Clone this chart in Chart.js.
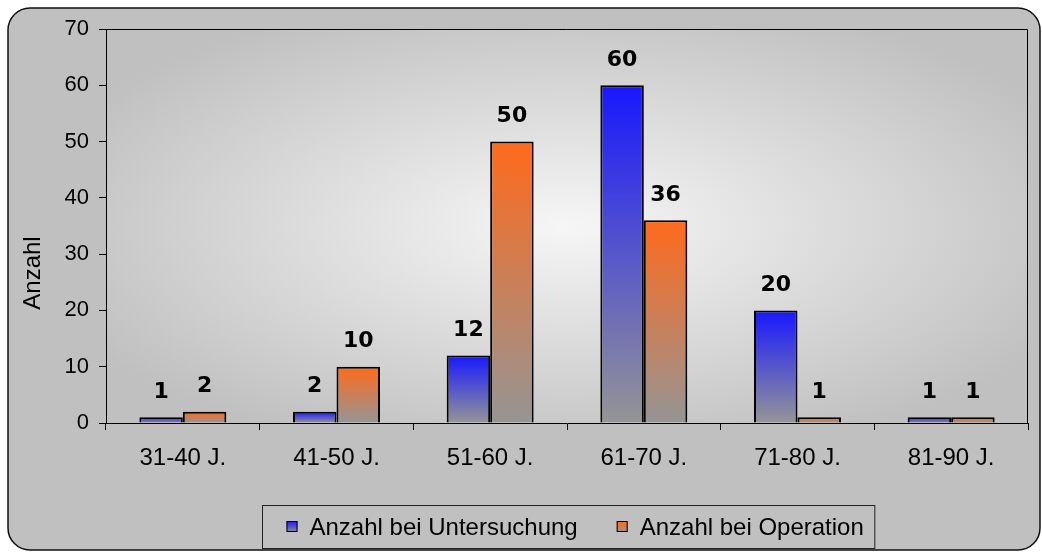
<!DOCTYPE html>
<html lang="de">
<head>
<meta charset="UTF-8" />
<title>Anzahl nach Altersgruppe</title>
<script src="https://cdn.jsdelivr.net/npm/chart.js"></script>
<style>
  html, body { margin: 0; padding: 0; background: #fff; }
  #wrap { width: 1042px; height: 553px; }
</style>
</head>
<body>
<div id="wrap"><canvas id="ageChart" width="1042" height="553"></canvas></div>
<script>
// Altersgruppen und Fallzahlen
const ageGroups = ['31-40 J.', '41-50 J.', '51-60 J.', '61-70 J.', '71-80 J.', '81-90 J.'];
const untersuchung = [1, 2, 12, 60, 20, 1];
const operation = [2, 10, 50, 36, 1, 1];
const seriesNames = ['Anzahl bei Untersuchung', 'Anzahl bei Operation'];
const yAxisTitle = 'Anzahl';
const yMax = 70;
const yStep = 10;

const BLUE_TOP = '#1818ff';
const ORANGE_TOP = '#ff6a1c';
const BAR_BOTTOM = '#959595';
const FONT = "'Liberation Sans', Arial, sans-serif";

// vertical gradient per bar, from the bar top down to the zero line
function barFill(topColor) {
  return (ctx) => {
    if (ctx.type !== 'data') return topColor;
    const y = ctx.chart.scales.y;
    if (!y) return topColor;
    const y0 = y.getPixelForValue(0);
    const y1 = y.getPixelForValue(ctx.raw);
    if (!isFinite(y0) || !isFinite(y1) || y0 === y1) return topColor;
    const g = ctx.chart.ctx.createLinearGradient(0, y1, 0, y0);
    g.addColorStop(0, topColor);
    g.addColorStop(1, BAR_BOTTOM);
    return g;
  };
}

function roundRect(c, x, y, w, h, r) {
  c.beginPath();
  c.moveTo(x + r, y);
  c.lineTo(x + w - r, y);
  c.arcTo(x + w, y, x + w, y + r, r);
  c.lineTo(x + w, y + h - r);
  c.arcTo(x + w, y + h, x + w - r, y + h, r);
  c.lineTo(x + r, y + h);
  c.arcTo(x, y + h, x, y + h - r, r);
  c.lineTo(x, y + r);
  c.arcTo(x, y, x + r, y, r);
  c.closePath();
}

const backdrop = {
  id: 'backdrop',
  beforeDraw(chart) {
    const { ctx, chartArea: a, width, height } = chart;
    ctx.save();
    ctx.fillStyle = '#fff';
    ctx.fillRect(0, 0, width, height);
    roundRect(ctx, 8, 8, 1032, 542, 22);
    ctx.fillStyle = '#c0c0c0';
    ctx.fill();
    ctx.lineWidth = 1.5;
    ctx.strokeStyle = '#111';
    ctx.stroke();

    // light centre fading out to grey
    const cx = (a.left + a.right) / 2, cy = (a.top + a.bottom) / 2;
    const rx = (a.right - a.left) / 2, ry = (a.bottom - a.top) / 2;
    ctx.translate(cx, cy);
    ctx.scale(1, ry / rx);
    const g = ctx.createRadialGradient(0, 0, 0, 0, 0, rx * 1.2);
    g.addColorStop(0, '#f6f6f6');
    g.addColorStop(1, '#c0c0c0');
    ctx.fillStyle = g;
    ctx.fillRect(-rx, -rx, rx * 2, rx * 2);
    ctx.restore();
  },
  afterDatasetsDraw(chart) {
    const { ctx, chartArea: a } = chart;
    ctx.save();
    ctx.strokeStyle = '#000';
    ctx.lineWidth = 1;
    ctx.beginPath();
    ctx.moveTo(a.left, a.top + 0.5);
    ctx.lineTo(a.right - 0.5, a.top + 0.5);
    ctx.lineTo(a.right - 0.5, a.bottom);
    ctx.stroke();

    // value labels above the bars
    ctx.fillStyle = '#000';
    ctx.font = "bold 22px 'DejaVu Sans', Verdana, sans-serif";
    ctx.textAlign = 'center';
    ctx.textBaseline = 'middle';
    chart.data.datasets.forEach((ds, i) => {
      chart.getDatasetMeta(i).data.forEach((bar, j) => {
        ctx.fillText(String(ds.data[j]), bar.x, bar.y - 25);
      });
    });
    ctx.restore();
  },
  afterDraw(chart) {
    const { ctx } = chart;
    ctx.save();
    // axis title
    ctx.fillStyle = '#000';
    ctx.font = '24px ' + FONT;
    ctx.textAlign = 'center';
    ctx.textBaseline = 'middle';
    ctx.translate(33, 273);
    ctx.rotate(-Math.PI / 2);
    ctx.fillText(yAxisTitle, 0, 0);
    ctx.restore();

    // boxed legend
    ctx.save();
    ctx.font = '24px ' + FONT;
    const sq = 11, gap = 12, itemGap = 39, padL = 24, padR = 11;
    const items = chart.data.datasets.map((ds, i) => ({
      label: ds.label,
      top: i === 0 ? BLUE_TOP : ORANGE_TOP,
      w: ctx.measureText(ds.label).width
    }));
    const inner = items.reduce((s, it) => s + sq + gap + it.w, 0) + itemGap * (items.length - 1);
    const boxW = inner + padL + padR;
    const boxX = Math.round(568 - boxW / 2) + 0.5;
    const boxY = 505.5, boxH = 43, midY = 527;
    ctx.strokeStyle = '#222';
    ctx.lineWidth = 1;
    ctx.strokeRect(boxX, boxY, boxW, boxH);
    let x = boxX + padL;
    items.forEach((it) => {
      const g = ctx.createLinearGradient(0, midY - 6, 0, midY + 6);
      g.addColorStop(0, it.top);
      g.addColorStop(1, BAR_BOTTOM);
      ctx.fillStyle = g;
      ctx.fillRect(x, midY - 6, sq, sq);
      ctx.strokeStyle = '#000';
      ctx.strokeRect(x + 0.5, midY - 5.5, sq - 1, sq - 1);
      ctx.fillStyle = '#000';
      ctx.textAlign = 'left';
      ctx.textBaseline = 'middle';
      ctx.fillText(it.label, x + sq + gap, midY + 1);
      x += sq + gap + it.w + itemGap;
    });
    ctx.restore();
  }
};

new Chart(document.getElementById('ageChart'), {
  type: 'bar',
  data: {
    labels: ageGroups,
    datasets: [
      { label: seriesNames[0], data: untersuchung, backgroundColor: barFill(BLUE_TOP) },
      { label: seriesNames[1], data: operation, backgroundColor: barFill(ORANGE_TOP) }
    ]
  },
  options: {
    responsive: false,
    animation: false,
    devicePixelRatio: 1,
    layout: { padding: { top: 29, right: 14, left: 0, bottom: 0 } },
    datasets: {
      bar: {
        borderColor: '#000',
        borderWidth: 2,
        categoryPercentage: 0.566,
        barPercentage: 1
      }
    },
    plugins: {
      legend: { display: false },
      tooltip: { enabled: false }
    },
    scales: {
      x: {
        ticks: { color: '#000', padding: 14, font: { family: FONT, size: 24 } },
        grid: { drawOnChartArea: false, tickLength: 7, color: '#000', offset: true },
        border: { color: '#000', width: 1 },
        afterFit(s) { s.height = 130; }
      },
      y: {
        min: 0,
        max: yMax,
        ticks: { stepSize: yStep, color: '#000', padding: 10, font: { family: FONT, size: 22 } },
        grid: { drawOnChartArea: false, tickLength: 7, color: '#000' },
        border: { color: '#000', width: 1 },
        afterFit(s) { s.width = 106; }
      }
    }
  },
  plugins: [backdrop]
});
</script>
</body>
</html>
